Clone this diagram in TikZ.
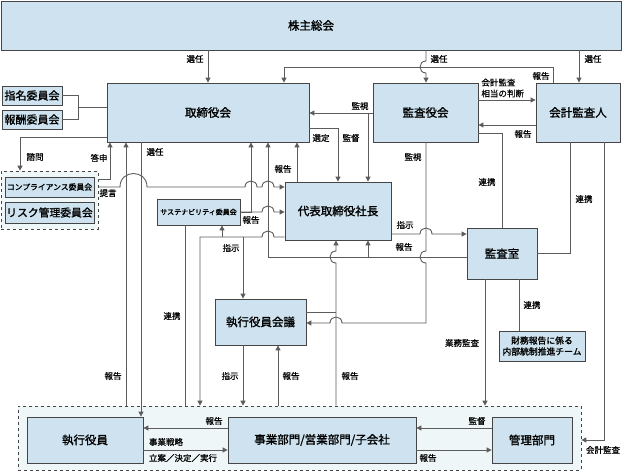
\documentclass[tikz,border=0pt]{standalone}
\usepackage{fontspec}
\setmainfont{Noto Sans CJK JP}[FakeBold=0.6]
\newfontfamily\boxfont{Noto Sans CJK JP}[FakeBold=1.4]
\usetikzlibrary{arrows.meta}

\definecolor{boxfill}{HTML}{CEE3EF}
\definecolor{boxline}{HTML}{454545}
\definecolor{wirecol}{HTML}{5C5C5C}
\definecolor{grpfill}{HTML}{EFF6F8}

\begin{document}
\begin{tikzpicture}[x=1pt, y=-1pt, line width=0.9pt, draw=wirecol,
    box/.style = {draw=boxline, line width=0.8pt, fill=boxfill, inner sep=0pt, align=center, font=\boxfont\fontsize{11.5}{13}\selectfont},
    grp/.style = {draw=boxline, line width=0.7pt, dashed, fill=grpfill, inner sep=0pt},
    lbl/.style = {inner sep=0pt, font=\fontsize{8.5}{10}\selectfont},
    >={Triangle[length=5pt,width=5pt]},
    hopr/.style args = {#1/#2}{insert path={-- (#1-6,#2) .. controls (#1-6,#2-8) and (#1+6,#2-8) .. (#1+6,#2)}},
    hopl/.style args = {#1/#2}{insert path={-- (#1+6,#2) .. controls (#1+6,#2-8) and (#1-6,#2-8) .. (#1-6,#2)}},
    hopd/.style args = {#1/#2}{insert path={-- (#1,#2-6) .. controls (#1-8,#2-6) and (#1-8,#2+6) .. (#1,#2+6)}},
    hopu/.style args = {#1/#2}{insert path={-- (#1,#2+6) .. controls (#1-8,#2+6) and (#1-8,#2-6) .. (#1,#2-6)}}]
    \useasboundingbox (0,0) rectangle (622,473);

    % groups
    \node[grp, minimum width=97, minimum height=58] (cgrp) at (49.5,200) {};
    \node[grp, minimum width=563, minimum height=64] (bgrp) at (299.5,438) {};

    % boxes
    \node[box, minimum width=620, minimum height=49] (gm) at (311,25.5) {株主総会};
    \node[box, minimum width=202, minimum height=59] (bod) at (208,112.5) {取締役会};
    \node[box, minimum width=60, minimum height=19, font=\boxfont\fontsize{11}{12}\selectfont] (nom) at (32,95.5) {指名委員会};
    \node[box, minimum width=60, minimum height=19, font=\boxfont\fontsize{11}{12}\selectfont] (rem) at (32,119.5) {報酬委員会};
    \node[box, minimum width=89, minimum height=20, font=\boxfont\fontsize{7.8}{9}\selectfont] (comp) at (49.5,187) {コンプライアンス委員会};
    \node[box, minimum width=89, minimum height=21, font=\boxfont\fontsize{10.8}{12}\selectfont] (risk) at (49.5,212.5) {リスク管理委員会};
    \node[box, minimum width=105, minimum height=59] (aud) at (425.5,112.5) {監査役会};
    \node[box, minimum width=84, minimum height=59] (acc) at (578,112.5) {会計監査人};
    \node[box, minimum width=106, minimum height=58] (ceo) at (338,211) {代表取締役社長};
    \node[box, minimum width=83, minimum height=26, font=\boxfont\fontsize{7}{8}\selectfont] (sus) at (198.5,212) {サステナビリティ委員会};
    \node[box, minimum width=70, minimum height=51] (ia) at (502,253.5) {監査室};
    \node[box, minimum width=91, minimum height=46] (emc) at (260.5,322) {執行役員会議};
    \node[box, minimum width=86, minimum height=30, font=\boxfont\fontsize{8.8}{11}\selectfont] (fin) at (542,346) {財務報告に係る\\内部統制推進チーム};
    \node[box, minimum width=116, minimum height=46] (eo) at (85,440) {執行役員};
    \node[box, minimum width=188, minimum height=46] (biz) at (322,440) {事業部門/営業部門/子会社};
    \node[box, minimum width=80, minimum height=46] (adm) at (532,440) {管理部門};

    % from the general meeting
    \draw[->] (gm.south -| 208,0) -- (bod.north -| 208,0);
    \draw[->] (gm.south -| 426,0) [hopd=426/67] -- (aud.north -| 426,0);
    \draw[->] (gm.south -| 579,0) -- (acc.north -| 579,0);
    \draw[->] (acc.north -| 553,0) -- (553,67) -- (284,67) -- (bod.north -| 284,0);

    % auditors
    \draw[->] (aud.east |- 0,100) -- (acc.west |- 0,100);
    \draw[->] (acc.west |- 0,125) -- (aud.east |- 0,125);
    \draw (aud.east |- 0,133) -- (502,133) -- (ia.north -| 502,0);
    \draw[->] (aud.west |- 0,113) -- (bod.east |- 0,113);
    \draw[->] (368,113) -- (ceo.north -| 368,0);
    \draw[->] (bod.east |- 0,128) -- (338,128) -- (ceo.north -| 338,0);
    \draw[->] (ceo.north -| 297,0) -- (bod.south -| 297,0);
    \draw[->] (aud.south -| 426,0) [hopd=426/257] -- (426,323) [hopl=336/323] -- (emc.east |- 0,323);
    \draw[->] (ceo.east |- 0,234) [hopr=426/234] -- (ia.west |- 0,234);
    \draw[->] (ia.west |- 0,257) -- (268,257) -- (bod.south -| 268,0);
    \draw[->] (368,257) -- (ceo.south -| 368,0);
    \draw (acc.south -| 570,0) -- (570,253) -- (ia.east |- 0,253);
    \draw[->] (acc.south -| 604,0) -- (604,440) -- (bgrp.east |- 0,440);
    \draw[->] (ia.south -| 485,0) -- (bgrp.north -| 485,0);
    \draw (ia.south -| 519,0) -- (fin.north -| 519,0);

    % committees
    \draw (nom.east) -- (78,95.5) -- (78,119.5) -- (rem.east);
    \draw (78,107) -- (bod.west |- 0,107);
    \draw[->] (bod.west |- 0,137) -- (20,137) -- (cgrp.north -| 20,0);
    \draw[->] (cgrp.east |- 0,179) -- (110,179) -- (bod.south -| 110,0);
    \draw[->] (cgrp.east |- 0,187) -- (120,187) .. controls (120,169) and (147,169) .. (147,187) [hopr=251/187] [hopr=268/187] -- (ceo.west |- 0,187);
    \draw[->] (bgrp.north -| 126,0) -- (bod.south -| 126,0);
    \draw[->] (bod.south -| 141,0) -- (eo.north -| 141,0);
    \draw[->] (sus.east) -- (251,212) -- (bod.south -| 251,0);
    \draw[->] (sus.east) [hopr=268/212] -- (ceo.west |- 0,212);
    \draw[->] (ceo.west |- 0,237) [hopl=268/237] -- (200,237) -- (bgrp.north -| 200,0);
    \draw[->] (222,237) -- (sus.south -| 222,0);
    \draw[->] (243,237) -- (emc.north -| 243,0);
    \draw (sus.south -| 185,0) -- (bgrp.north -| 185,0);

    % executive side
    \draw[->] (emc.south -| 243,0) -- (bgrp.north -| 243,0);
    \draw[->] (bgrp.north -| 278,0) -- (emc.south -| 278,0);
    \draw[->] (bgrp.north -| 336,0) [hopu=336/257] -- (ceo.south -| 336,0);
    \draw (emc.east |- 0,312) -- (336,312);
    \draw[->] (biz.west |- 0,428) -- (eo.east |- 0,428);
    \draw[->] (eo.east |- 0,450) -- (biz.west |- 0,450);
    \draw[->] (adm.west |- 0,428) -- (biz.east |- 0,428);
    \draw[->] (biz.east |- 0,450) -- (adm.west |- 0,450);

    % labels
    \node[lbl] (l1) at (195,59) {選任};
    \node[lbl] (l2) at (439,59) {選任};
    \node[lbl] (l3) at (593,59) {選任};
    \node[lbl] (l4) at (541,76) {報告};
    \node[lbl, anchor=west, align=left, font=\fontsize{8.5}{11}\selectfont] (l5) at (481,88) {会計監査\\相当の判断};
    \node[lbl] (l6) at (523,134) {報告};
    \node[lbl] (l7) at (360,106) {監視};
    \node[lbl] (l8) at (321,138) {選定};
    \node[lbl] (l9) at (351,138) {監督};
    \node[lbl] (l10) at (487,182) {連携};
    \node[lbl] (l11) at (413,157) {監視};
    \node[lbl] (l12) at (584,199) {連携};
    \node[lbl] (l13) at (35,157) {諮問};
    \node[lbl] (l14) at (99,158) {答申};
    \node[lbl] (l15) at (155,152) {選任};
    \node[lbl] (l16) at (108,193) {提言};
    \node[lbl] (l17) at (283,169) {報告};
    \node[lbl] (l18) at (251,220) {報告};
    \node[lbl] (l19) at (405,225) {指示};
    \node[lbl] (l20) at (404,247) {報告};
    \node[lbl] (l21) at (231,248) {指示};
    \node[lbl] (l22) at (532,305) {連携};
    \node[lbl] (l23) at (172,316) {連携};
    \node[lbl] (l24) at (462,343) {業務監査};
    \node[lbl] (l25) at (113,376) {報告};
    \node[lbl] (l26) at (230,376) {指示};
    \node[lbl] (l27) at (291,376) {報告};
    \node[lbl] (l28) at (350,376) {報告};
    \node[lbl] (l29) at (214,421) {報告};
    \node[lbl] (l30) at (166,442) {事業戦略};
    \node[lbl] (l31) at (183,458) {立案／決定／実行};
    \node[lbl] (l32) at (477,421) {監督};
    \node[lbl] (l33) at (428,458) {報告};
    \node[lbl] (l34) at (603,450) {会計監査};
\end{tikzpicture}
\end{document}
